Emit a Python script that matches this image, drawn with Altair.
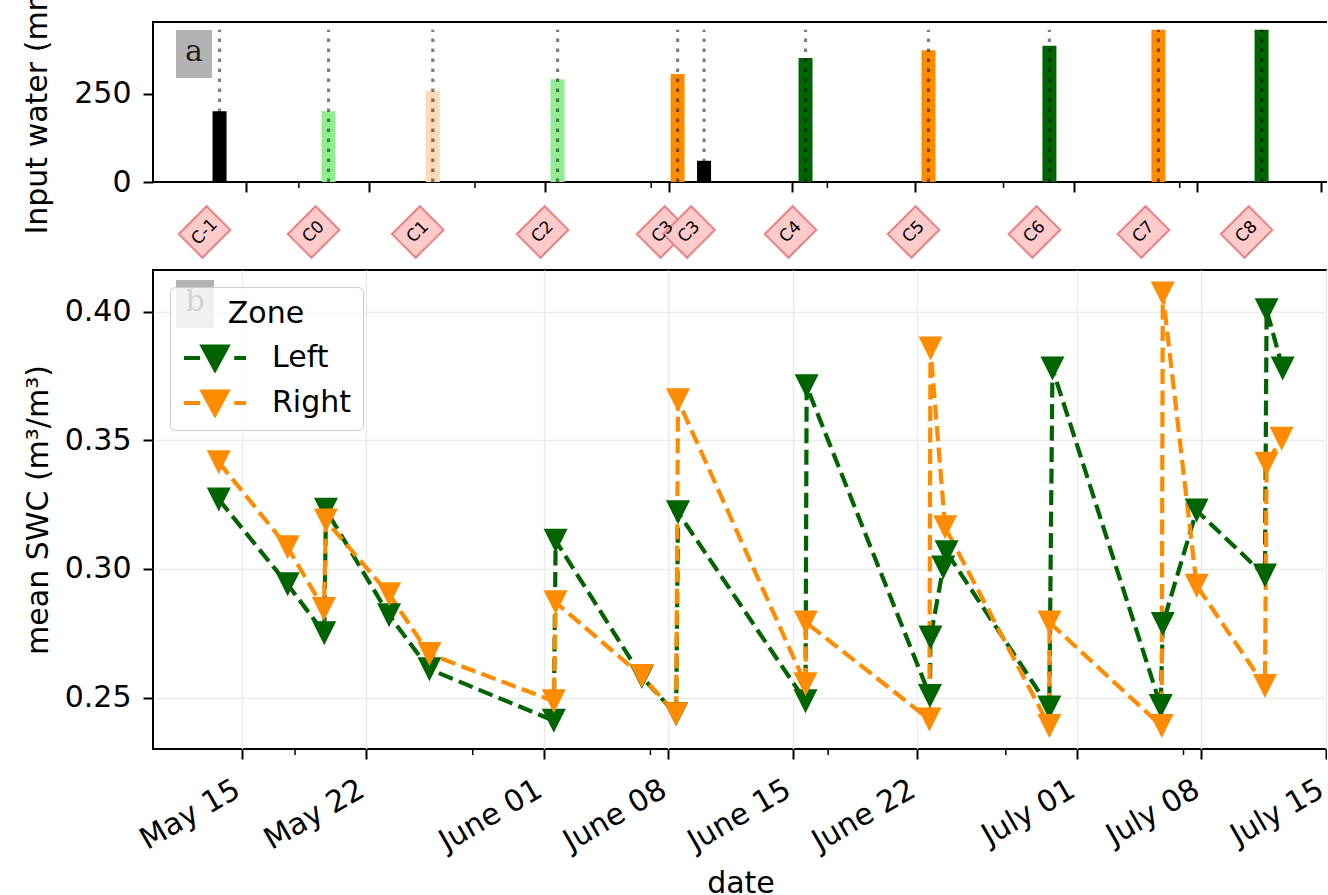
import altair as alt
import pandas as pd

YEAR = 2021

# ---------------- panel b : mean soil water content ----------------
left_time = ["05-13T17:00", "05-17T14:00", "05-19T15:30", "05-19T17:45", "05-23T07:00", "05-25T13:30",
             "06-01T13:30", "06-01T16:00", "06-06T12:30", "06-08T10:45", "06-08T13:15",
             "06-15T17:30", "06-15T19:00", "06-22T17:30", "06-22T18:15", "06-23T11:30", "06-23T16:00",
             "06-29T10:45", "06-29T15:00", "07-05T17:15", "07-05T20:00", "07-07T17:45",
             "07-11T14:00", "07-11T16:15", "07-12T14:00"]
left_swc = [0.327, 0.294, 0.275, 0.323, 0.282, 0.261,
            0.241, 0.311, 0.258, 0.2435, 0.322,
            0.2486, 0.371, 0.2506, 0.2733, 0.3006, 0.3065,
            0.2461, 0.3779, 0.2467, 0.2786, 0.3227,
            0.2974, 0.4006, 0.3779]

right_time = ["05-13T17:00", "05-17T14:00", "05-19T15:00", "05-19T17:45", "05-23T07:00", "05-25T13:30",
              "06-01T13:30", "06-01T16:00", "06-06T12:30", "06-08T10:45", "06-08T13:15",
              "06-15T17:30", "06-15T18:00", "06-22T16:45", "06-22T18:15", "06-23T14:00",
              "06-29T10:45", "06-29T11:00", "07-05T18:30", "07-05T20:00", "07-07T17:45",
              "07-11T14:00", "07-11T16:15", "07-12T12:30"]
right_swc = [0.3415, 0.3084, 0.2844, 0.3188, 0.2902, 0.2669,
             0.2486, 0.2870, 0.2584, 0.2435, 0.3656,
             0.2552, 0.2792, 0.2415, 0.3857, 0.3162,
             0.2389, 0.2792, 0.2389, 0.4071, 0.2935,
             0.2545, 0.3409, 0.3506]

zones = ["Left", "Right"]
zone_colors = ["#006400", "#ff8c00"]

# ---------------- panel a : input water events ----------------
event_time = ["05-13T12:00", "05-19T16:30", "05-25T14:30", "06-01T16:30", "06-08T12:00", "06-10T00:00",
              "06-15T18:15", "06-22T17:45", "06-29T14:30", "07-05T19:00", "07-11T15:30"]
event_water = [200, 200, 258, 290, 305, 60, 350, 372, 385, 430, 430]
event_kind = ["Rain", "Left (low)", "Right (low)", "Left (low)", "Right", "Rain",
              "Left", "Right", "Left", "Right", "Left"]
event_label = ["C-1", "C0", "C1", "C2", "C3", "C3", "C4", "C5", "C6", "C7", "C8"]

kinds = ["Rain", "Left (low)", "Right (low)", "Left", "Right"]
kind_colors = ["black", "#90ee90", "#ffdab9", "#006400", "#ff8c00"]

major_ticks = ["05-15", "05-22", "06-01", "06-08", "06-15", "06-22", "07-01", "07-08", "07-15"]
minor_ticks = ["05-18", "05-28", "06-07", "06-17", "06-27", "07-07"]
x_limits = ["05-10T00:10", "07-15T03:10"]
water_limits = [0, 452]
swc_limits = [0.2300, 0.4162]
swc_ticks = [0.25, 0.30, 0.35, 0.40]
water_ticks = [0, 250]


def iso(s):
    return f"{YEAR}-{s}"


def dt(s):
    date, _, clock = s.partition("T")
    m, d = date.split("-")
    kw = dict(year=YEAR, month=int(m), date=int(d))
    if clock:
        h, mi = clock.split(":")
        kw.update(hours=int(h), minutes=int(mi))
    return alt.DateTime(**kw)


swc = pd.DataFrame({
    "time": [iso(t) for t in left_time] + [iso(t) for t in right_time],
    "swc": left_swc + right_swc,
    "zone": ["Left"] * len(left_time) + ["Right"] * len(right_time),
    "seq": list(range(len(left_time))) + list(range(len(right_time))),
})
events = pd.DataFrame({
    "time": [iso(t) for t in event_time],
    "water": event_water,
    "kind": event_kind,
    "label": event_label,
})
minor = pd.DataFrame({"time": [iso(t) for t in minor_ticks]})

FONT = "DejaVu Sans"
FS = 30
W = 1175
H_TOP = 160
H_BOT = 479

TRI = "M-1,-1L1,-1L0,1Z"
DIAMOND = "M1,-0.081L0.081,-1L-1,0.081L-0.081,1Z"
LEG_SYM = "M-1,0L-0.48,0M0.62,0L1,0M-0.4,-0.37L0.4,-0.37L0,0.37Z"

x_scale = alt.Scale(domain=[dt(x_limits[0]), dt(x_limits[1])])
major_vals = [dt(t) for t in major_ticks]
zone_scale = alt.Scale(domain=zones, range=zone_colors)
kind_scale = alt.Scale(domain=kinds, range=kind_colors)

# ---------------- top panel ----------------
top_x = alt.X("time:T", scale=x_scale,
              axis=alt.Axis(values=major_vals, labels=False, title=None, grid=False,
                            tickSize=10, tickWidth=2, domain=False))
bars = alt.Chart(events).mark_bar(width=14).encode(
    x=top_x,
    y=alt.Y("water:Q", scale=alt.Scale(domain=water_limits, nice=False, zero=False),
            axis=alt.Axis(values=water_ticks, title="Input water (mm)", grid=False,
                          tickSize=10, tickWidth=2, labelPadding=12, titlePadding=21,
                          domain=False)),
    color=alt.Color("kind:N", scale=kind_scale, legend=None),
)
rules = alt.Chart(events).transform_joinaggregate(top="max(water)").transform_calculate(
    zero="0"
).mark_rule(
    color="black", opacity=0.5, strokeWidth=3.2, strokeDash=[3.5, 6.5]
).encode(x=alt.X("time:T", scale=x_scale), y=alt.Y("zero:Q"), y2=alt.Y2("top:Q"))

tags = alt.Chart(events).mark_point(
    shape=DIAMOND, size=2650, filled=True, fill="#ffcaca", stroke="#f08080",
    strokeWidth=2, opacity=1, xOffset=-15
).encode(x=alt.X("time:T", scale=x_scale), y=alt.value(210))
tag_text = alt.Chart(events).mark_text(
    angle=315, fontSize=17, color="black", xOffset=-15, baseline="middle", align="center"
).encode(x=alt.X("time:T", scale=x_scale), y=alt.value(210), text="label:N")

minor_top = alt.Chart(minor).mark_rule(color="black", strokeWidth=1.5).encode(
    x=alt.X("time:T", scale=x_scale), y=alt.value(H_TOP), y2=alt.value(H_TOP + 6))

panel_a = pd.DataFrame({"t": ["a"]})
box_a = alt.Chart(panel_a).mark_rect(color="#b3b3b3").encode(
    x=alt.value(23), x2=alt.value(59), y=alt.value(8), y2=alt.value(56))
txt_a = alt.Chart(panel_a).mark_text(font="DejaVu Serif", fontSize=FS, color="#222222",
                                     baseline="middle").encode(
    x=alt.value(41), y=alt.value(30), text="t:N")

top = alt.layer(bars, rules, tags, tag_text, minor_top, box_a, txt_a).properties(width=W, height=H_TOP)

# ---------------- bottom panel ----------------
bot_x = alt.X("time:T", scale=x_scale,
              axis=alt.Axis(values=major_vals, format="%B %d", labelAngle=330, labelAlign="right",
                            labelBaseline="top", labelPadding=15, labelOffset=-12, tickSize=10,
                            tickWidth=2, grid=True, gridColor="#ebebeb", gridWidth=1.5,
                            title="date", titlePadding=12, domain=False, labelFlush=False,
                            labelOverlap=False))
bot_y = alt.Y("swc:Q", scale=alt.Scale(domain=swc_limits, nice=False, zero=False),
              axis=alt.Axis(values=swc_ticks, format=".2f", title="mean SWC (m³/m³)",
                            grid=True, gridColor="#ebebeb", gridWidth=1.5, tickSize=10,
                            tickWidth=2, labelPadding=12, titlePadding=11, domain=False))

zone_legend = alt.Legend(
    title="Zone", orient="none", legendX=17, legendY=265, symbolType=LEG_SYM, symbolSize=3844,
    symbolStrokeWidth=4, symbolOffset=0, labelOffset=24, padding=12, rowPadding=15,
    clipHeight=30, titlePadding=14, titleAnchor="middle", titleFontSize=FS,
    titleFontWeight="normal", labelFontSize=FS, fillColor="rgba(255,255,255,0.8)",
    strokeColor="#cccccc", cornerRadius=5, titleColor="black", labelColor="black",
)

panel_b = pd.DataFrame({"t": ["b"]})
box_b = alt.Chart(panel_b).mark_rect(color="#b3b3b3").encode(
    x=alt.value(23), x2=alt.value(61), y=alt.value(10), y2=alt.value(58))
txt_b = alt.Chart(panel_b).mark_text(font="DejaVu Serif", fontSize=FS, color="#222222",
                                     baseline="middle").encode(
    x=alt.value(42), y=alt.value(32), text="t:N")

lines = alt.Chart(swc).mark_line(strokeDash=[15, 6.5], strokeWidth=4.2).encode(
    x=bot_x, y=bot_y,
    stroke=alt.Stroke("zone:N", scale=zone_scale, legend=zone_legend),
    order=alt.Order("seq:Q"),
)
points = alt.Chart(swc).mark_point(shape=TRI, size=576, filled=True, opacity=1).encode(
    x=alt.X("time:T", scale=x_scale), y=alt.Y("swc:Q"),
    fill=alt.Fill("zone:N", scale=zone_scale, legend=zone_legend),
)
minor_bot = alt.Chart(minor).mark_rule(color="black", strokeWidth=1.5).encode(
    x=alt.X("time:T", scale=x_scale), y=alt.value(H_BOT), y2=alt.value(H_BOT + 6))

bottom = alt.layer(box_b, txt_b, lines, points, minor_bot).properties(width=W, height=H_BOT)

chart = alt.vconcat(top, bottom, spacing=6).properties(
    padding={"left": 21, "right": -3, "top": -32, "bottom": -6}
).configure(font=FONT).configure_view(
    stroke="black", strokeWidth=2
).configure_axis(
    labelFont=FONT, titleFont=FONT, labelColor="black", titleColor="black",
    labelFontSize=FS, titleFontSize=FS, titleFontWeight="normal", tickColor="black",
)

chart.save("out.html", embed_options={"renderer": "svg", "actions": False})
